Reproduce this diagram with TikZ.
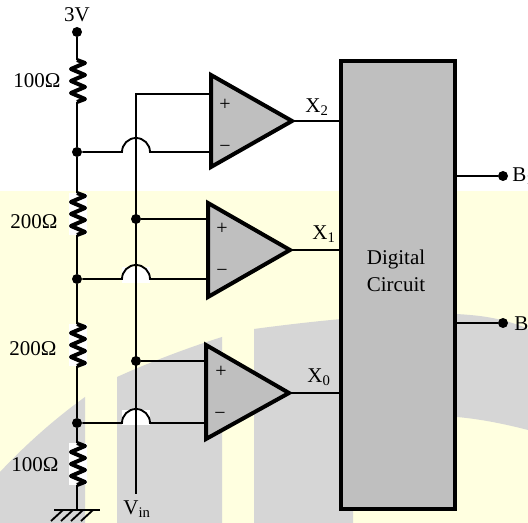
\documentclass[tikz,border=0pt]{standalone}
\usepackage{fontspec}
\setmainfont{Liberation Serif}
\definecolor{paleyellow}{HTML}{FFFFE0}
\definecolor{palegray}{HTML}{D6D6D6}
\definecolor{blockgray}{HTML}{BFBFBF}
\tikzset{
  wire/.style={line width=1.4pt},
  dot/.style={circle,fill=black,inner sep=0pt,minimum size=7.5pt},
  opamp/.style={line width=3pt,fill=blockgray,miter limit=10},
  resline/.style={line width=3pt,line join=round},
  lbl/.style={inner sep=0pt,font=\fontsize{15.75}{18}\selectfont},
  sgn/.style={inner sep=0pt,font=\fontsize{15}{18}\selectfont}
}
\begin{document}
\begin{tikzpicture}[x=0.75pt,y=-0.75pt]
\useasboundingbox (0,0) rectangle (528,523);
% fond
\fill[paleyellow] (0,191) rectangle (528,523);
\fill[palegray] (0,472) .. controls (30,440) and (60,415) .. (85,397) -- (85,523) -- (0,523) -- cycle;
\fill[palegray] (117,377) .. controls (150,362) and (190,347) .. (222,337) -- (222,523) -- (117,523) -- cycle;
\fill[palegray] (254,329) .. controls (320,320) and (420,310) .. (470,315) .. controls (495,317) and (515,323) .. (528,329)
  -- (528,430) .. controls (505,424) and (480,419) .. (457,417) -- (353,410) -- (353,523) -- (254,523) -- cycle;
\foreach \ytop in {193,324,443} \fill[white] (69,\ytop) rectangle (87,\ytop+42); % sous les resistances
\fill[white] (122,267) rectangle (150,283);
\fill[white] (122,410) rectangle (150,425);
% rail gauche
\node[dot] (top) at (77,32) {};
\node[dot] (n2) at (77,152) {};
\node[dot] (n1) at (77,279) {};
\node[dot] (n0) at (77,423) {};
\coordinate (gnd) at (77,510);
\node[lbl] (vdd) at (77,15) {3V};
\foreach \name/\ytop in {ra/60,rb/193,rc/324,rd/443}{
  \coordinate (\name t) at (77,\ytop);
  \coordinate (\name b) at (77,\ytop+42);
  \draw[resline] (\name t) -- ++(8,3) -- ++(-14,6) -- ++(14,6) -- ++(-14,6) -- ++(14,6) -- ++(-14,6) -- ++(14,6) -- (\name b);
}
\draw[wire] (top) -- (rat);
\draw[wire] (rab) -- (n2) -- (rbt);
\draw[wire] (rbb) -- (n1) -- (rct);
\draw[wire] (rcb) -- (n0) -- (rdt);
\draw[wire] (rdb) -- (gnd);
\node[lbl] (ra lbl) at (37,81) {100Ω};
\node[lbl] (rb lbl) at (34,222) {200Ω};
\node[lbl] (rc lbl) at (33,349) {200Ω};
\node[lbl] (rd lbl) at (35,465) {100Ω};
% masse
\coordinate (gl) at (54,510);
\coordinate (gr) at (100,510);
\draw[wire] (gl) -- (gr);
\foreach \x in {58,68,78,88} \draw[wire] (\x+5,510) -- (\x-7,521);
% comparateurs
\draw[opamp] (211,75) -- (292,121) -- (211,167) -- cycle;
\draw[opamp] (208,203) -- (290,250) -- (208,297) -- cycle;
\draw[opamp] (206,345) -- (289,393) -- (206,439) -- cycle;
\coordinate (t2) at (292,121);
\coordinate (t1) at (290,250);
\coordinate (t0) at (289,393);
\coordinate (p2) at (209,94);
\coordinate (m2) at (209,152);
\coordinate (p1) at (206,219);
\coordinate (m1) at (206,279);
\coordinate (p0) at (204,361);
\coordinate (m0) at (204,423);
\node[sgn] (p2 s) at (225,105) {+};
\node[sgn] (m2 s) at (225,149) {−};
\node[sgn] (p1 s) at (222,229) {+};
\node[sgn] (m1 s) at (222,273) {−};
\node[sgn] (p0 s) at (221,372) {+};
\node[sgn] (m0 s) at (220,416) {−};
% Vin
\coordinate (vtop) at (136,94);
\coordinate (vbot) at (136,494);
\node[dot] (v1) at (136,219) {};
\node[dot] (v0) at (136,361) {};
\node[lbl] (vin) at (137,509) {V\textsubscript{in}};
\draw[wire] (p2) -- (vtop) -- (vbot);
\draw[wire] (v1) -- (p1);
\draw[wire] (v0) -- (p0);
% les sauts
\draw[wire] (n2) -- (122,152) arc[start angle=180,end angle=360,radius=14] -- (m2);
\draw[wire] (n1) -- (122,279) arc[start angle=180,end angle=360,radius=14] -- (m1);
\draw[wire] (n0) -- (122,423) arc[start angle=180,end angle=360,radius=14] -- (m0);
% bloc
\node[draw,line width=3pt,outer sep=0pt,fill=blockgray,minimum width=85.5pt,minimum height=336pt,inner sep=0pt,anchor=north west] (dig) at (341,61) {};
\node[lbl,align=center] (digtxt) at (396,271) {Digital\\[2pt]Circuit};
\draw[wire] (t2) -- (t2 -| dig.west);
\draw[wire] (t1) -- (t1 -| dig.west);
\draw[wire] (t0) -- (t0 -| dig.west);
\node[lbl] (x2) at (317,107) {X\textsubscript{2}};
\node[lbl] (x1) at (324,234) {X\textsubscript{1}};
\node[lbl] (x0) at (319,377) {X\textsubscript{0}};
% sorties
\node[dot] (b1) at (503,176) {};
\node[dot] (b0) at (503,323) {};
\draw[wire] (dig.east |- b1) -- (b1);
\draw[wire] (dig.east |- b0) -- (b0);
\node[lbl,anchor=west] (b1 lbl) at (512,176) {B\textsubscript{1}};
\node[lbl,anchor=west] (b0 lbl) at (514,324) {B};
\end{tikzpicture}
\end{document}
